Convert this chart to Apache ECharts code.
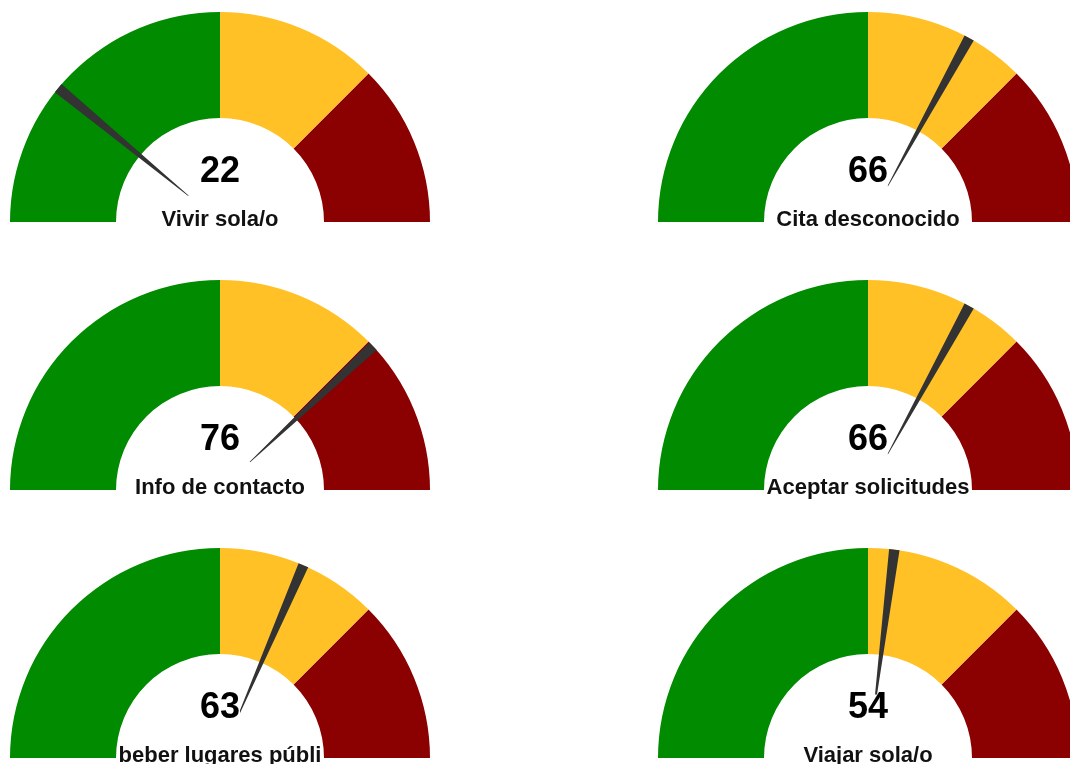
<!DOCTYPE html>
<html>
<head>
<meta charset="utf-8">
<title>Gauges</title>
<script src="https://cdn.jsdelivr.net/npm/echarts@6/dist/echarts.min.js"></script>
<style>
    html, body { margin: 0; padding: 0; background: #fff; }
    #main { width: 1070px; height: 764px; }
</style>
</head>
<body>
<div id="main"></div>
<script>
    // values
    let labels = ['Vivir sola/o', 'Cita desconocido', 'Info de contacto',
        'Aceptar solicitudes', 'beber lugares públi', 'Viajar sola/o'];
    let values = [22, 66, 76, 66, 63, 54];
    let bandStops = [50, 75, 100];
    let bandColors = ['#008B00', '#FFC125', '#8B0000'];

    let myChart = echarts.init(document.getElementById('main'));

    // needle: wide at the rim, narrow near the middle, empty space down to the centre
    let needle = 'path://M0,0 L10,0 L5.3,169 L4.7,169 Z M5,210 L5.01,210 L5,210.01 Z';
    let colX = [220, 868];
    let rowY = [222, 490, 758];

    let series = values.map(function (v, i) {
        return {
            type: 'gauge',
            center: [colX[i % 2], rowY[Math.floor(i / 2)]],
            radius: 210,
            startAngle: 180,
            endAngle: 0,
            min: 0,
            max: 100,
            axisLine: {
                lineStyle: {
                    width: 106,
                    color: bandStops.map(function (s, k) {
                        return [s / 100, bandColors[k]];
                    })
                }
            },
            splitLine: {show: false},
            axisTick: {show: false},
            axisLabel: {show: false},
            pointer: {
                icon: needle,
                length: 210,
                width: 10.5,
                showAbove: false,
                itemStyle: {color: '#333333'}
            },
            anchor: {show: false},
            title: {
                offsetCenter: [0, -2],
                color: '#111',
                fontSize: 22,
                fontWeight: 'bold',
                fontFamily: 'Liberation Sans, Arial, sans-serif'
            },
            detail: {
                offsetCenter: [0, -50],
                color: '#000',
                fontSize: 36,
                width: 40,
                height: 27,
                lineHeight: 27,
                padding: 0,
                backgroundColor: '#fff',
                fontWeight: 'bold',
                fontFamily: 'Liberation Sans, Arial, sans-serif',
                formatter: '{value}'
            },
            data: [{value: v, name: labels[i]}]
        };
    });

    myChart.setOption({
        animation: false,
        series: series
    });
</script>
</body>
</html>
